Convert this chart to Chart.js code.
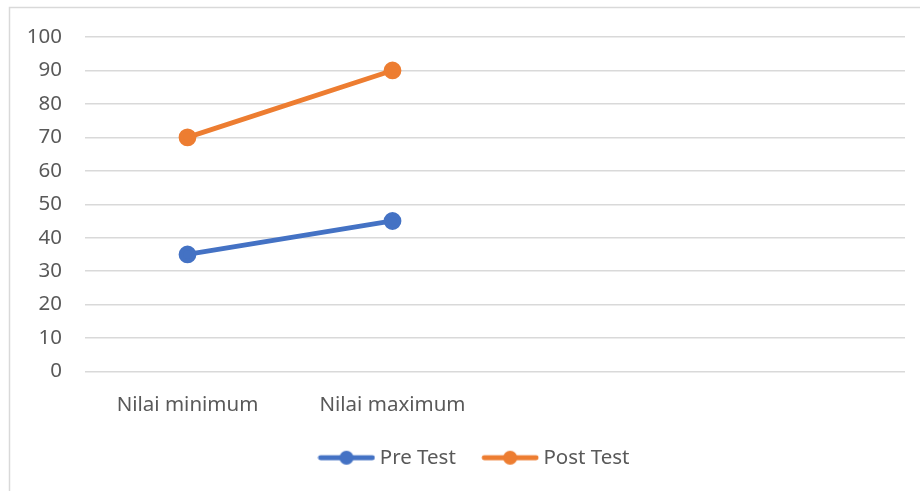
<!DOCTYPE html>
<html>
<head>
<meta charset="utf-8">
<script src="https://cdn.jsdelivr.net/npm/chart.js@4.4.0/dist/chart.umd.min.js"></script>
<style>
  html, body { margin: 0; padding: 0; background: #fff; }
  #wrap { width: 920px; height: 491px; position: relative; }
</style>
</head>
<body>
<div id="wrap"><canvas id="chart"></canvas></div>
<script>
const categories = ['Nilai minimum', 'Nilai maximum', '', ''];
const preTest = [35, 45, null, null];
const postTest = [70, 90, null, null];
const seriesNames = ['Pre Test', 'Post Test'];
const colors = ['#4472C4', '#ED7D31'];

const FONT = '"Noto Sans", sans-serif';
const FS = 20.5;

// legend marker: line with a dot in the middle
const makeMarker = (color) => {
    const c = document.createElement('canvas');
    c.width = 58;
    c.height = 16;
    const ctx = c.getContext('2d');
    ctx.strokeStyle = color;
    ctx.lineWidth = 4.8;
    ctx.lineCap = 'round';
    ctx.beginPath();
    ctx.moveTo(3, 8);
    ctx.lineTo(55, 8);
    ctx.stroke();
    ctx.fillStyle = color;
    ctx.beginPath();
    ctx.arc(29, 8, 7, 0, Math.PI * 2);
    ctx.fill();
    return c;
};

const frame = {
    id: 'frame',
    beforeDraw(chart) {
        const ctx = chart.ctx;
        ctx.save();
        ctx.fillStyle = '#fff';
        ctx.fillRect(0, 0, chart.width, chart.height);
        ctx.strokeStyle = '#d9d9d9';
        ctx.lineWidth = 1.5;
        ctx.strokeRect(9.5, 7.5, 1000, 1000);
        ctx.restore();
    },
    // legend sits centred on the whole frame, not on the plot
    afterLayout(chart) {
        if (chart.legend) {
            chart.legend.left += 19;
            chart.legend.right += 19;
        }
    }
};

new Chart(document.getElementById('chart'), {
    type: 'line',
    data: {
        labels: categories,
        datasets: [
            {
                label: seriesNames[0],
                data: preTest,
                borderColor: colors[0],
                backgroundColor: colors[0],
                borderWidth: 4.8,
                pointRadius: 6.5,
                pointHoverRadius: 6.5,
                pointStyle: 'circle',
                borderCapStyle: 'round',
                fill: false,
                tension: 0
            },
            {
                label: seriesNames[1],
                data: postTest,
                borderColor: colors[1],
                backgroundColor: colors[1],
                borderWidth: 4.8,
                pointRadius: 6.5,
                pointHoverRadius: 6.5,
                pointStyle: 'circle',
                borderCapStyle: 'round',
                fill: false,
                tension: 0
            }
        ]
    },
    options: {
        responsive: true,
        maintainAspectRatio: false,
        animation: false,
        events: [],
        layout: { padding: { left: 10, right: 15, top: 37, bottom: 13 } },
        scales: {
            x: {
                offset: true,
                grid: { display: false },
                border: { display: false },
                ticks: { color: '#595959', font: { family: FONT, size: FS }, padding: 13, maxRotation: 0, autoSkip: false },
                afterFit: (scale) => { scale.height = 66; }
            },
            y: {
                min: 0,
                max: 100,
                grid: { color: '#d9d9d9', lineWidth: 1.5, drawTicks: false },
                border: { display: false },
                ticks: { stepSize: 10, color: '#595959', font: { family: FONT, size: FS }, padding: 23 },
                afterFit: (scale) => { scale.width = 75; }
            }
        },
        plugins: {
            tooltip: { enabled: false },
            legend: {
                position: 'bottom',
                labels: {
                    color: '#595959',
                    font: { family: FONT, size: FS },
                    usePointStyle: true,
                    pointStyleWidth: 46,
                    padding: 10,
                    generateLabels: (chart) => chart.data.datasets.map((ds, i) => ({
                        text: i === 0 ? ds.label + '    ' : ds.label,
                        pointStyle: makeMarker(colors[i]),
                        fillStyle: colors[i],
                        strokeStyle: colors[i],
                        lineWidth: 0,
                        fontColor: '#595959',
                        hidden: false,
                        datasetIndex: i
                    }))
                }
            }
        }
    },
    plugins: [frame]
});
</script>
</body>
</html>
